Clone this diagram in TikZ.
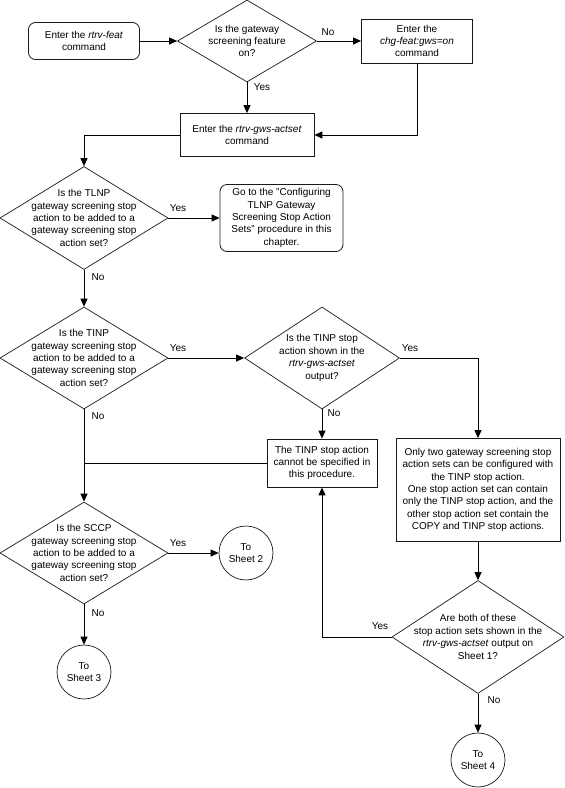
\documentclass[tikz,border=0pt]{standalone}
\usepackage{fontspec}
\setmainfont{Liberation Sans}
\usetikzlibrary{arrows.meta,shapes.geometric}
\definecolor{LineClr}{rgb}{0,0,0}
\definecolor{ShapeClr}{rgb}{0.1,0.1,0.1}

\begin{document}
\begin{tikzpicture}[x=1pt,y=-1pt,
  font=\fontsize{10}{12.4}\selectfont,
  every node/.style={align=center,inner sep=0pt},
  proc/.style={draw=ShapeClr,line width=.8pt,rectangle},
  term/.style={proc,rounded corners=7pt},
  decision/.style={draw=ShapeClr,line width=.7pt,diamond},
  sheet/.style={draw=ShapeClr,line width=.7pt,circle,minimum size=54pt},
  flow/.style={draw=LineClr,line width=1pt,-{Triangle[length=8pt,width=7pt]}},
  plain/.style={draw=LineClr,line width=1pt}]
\useasboundingbox (0,0) rectangle (565,788);

\node[term,minimum width=111pt,minimum height=37pt] (feat) at (84,41) {Enter the \textit{rtrv-feat}\\command};
\node[decision,minimum width=139pt,minimum height=82pt] (gws) at (247,41) {};
\node (gws-q) at (gws) {Is the gateway\\screening feature\\on?};
\node[proc,minimum width=111pt,minimum height=44pt] (chg) at (417,41) {Enter the\\\textit{chg-feat:gws=on}\\command};
\node[proc,minimum width=134pt,minimum height=43pt] (actset) at (247,135) {Enter the \textit{rtrv-gws-actset}\\command};

\node[decision,minimum width=168pt,minimum height=103pt] (tlnp) at (84,218) {};
\node (tlnp-q) at (tlnp) {Is the TLNP\\gateway screening stop\\action to be added to a\\gateway screening stop\\action set?};
\node[term,minimum width=123pt,minimum height=67pt] (goto) at (281.5,218) {Go to the "Configuring\\TLNP Gateway\\Screening Stop Action\\Sets" procedure in this\\chapter.};

\node[decision,minimum width=168pt,minimum height=102pt] (tinp) at (84,358) {};
\node (tinp-q) at (tinp) {Is the TINP\\gateway screening stop\\action to be added to a\\gateway screening stop\\action set?};
\node[decision,minimum width=155pt,minimum height=102pt] (shown) at (322,358) {};
\node (shown-q) at (shown) {Is the TINP stop\\action shown in the\\\textit{rtrv-gws-actset}\\output?};
\node[proc,minimum width=110pt,minimum height=48pt] (cannot) at (322,463) {The TINP stop action\\cannot be specified in\\this procedure.};
\node[proc,minimum width=164pt,minimum height=103pt] (only) at (478,490) {Only two gateway screening stop\\action sets can be configured with\\the TINP stop action.\\One stop action set can contain\\only the TINP stop action, and the\\other stop action set contain the\\COPY and TINP stop actions.};

\node[decision,minimum width=168pt,minimum height=102pt] (sccp) at (84,553) {};
\node (sccp-q) at (sccp) {Is the SCCP\\gateway screening stop\\action to be added to a\\gateway screening stop\\action set?};
\node[sheet] (sheet2) at (246,553) {To\\Sheet 2};
\node[sheet] (sheet3) at (84,672) {To\\Sheet 3};
\node[decision,minimum width=172pt,minimum height=113pt] (both) at (478,637) {};
\node (both-q) at (both) {Are both of these\\stop action sets shown in the\\\textit{rtrv-gws-actset} output on\\Sheet 1?};
\node[sheet] (sheet4) at (478,760) {To\\Sheet 4};

\draw[flow] (feat) -- (gws);
\draw[flow] (gws) -- (chg);
\draw[flow] (gws) -- (actset);
\draw[flow] (chg) |- (actset);
\draw[flow] (actset) -| (tlnp);
\draw[flow] (tlnp) -- (goto);
\draw[flow] (tlnp) -- (tinp);
\draw[flow] (tinp) -- (shown);
\draw[flow] (shown) -- (cannot);
\draw[flow] (shown) -| (only);
\draw[plain] (cannot.west) -- (cannot.west -| tinp.south);
\draw[flow] (tinp) -- (sccp);
\draw[flow] (sccp) -- (sheet2);
\draw[flow] (sccp) -- (sheet3);
\draw[flow] (only) -- (both);
\draw[flow] (both) -| (cannot);
\draw[flow] (both) -- (sheet4);

\node (gws-no) at (328,32) {No};
\node (gws-yes) at (262,87) {Yes};
\node (tlnp-yes) at (178,208) {Yes};
\node (tlnp-no) at (98,277) {No};
\node (tinp-yes) at (178,348) {Yes};
\node (tinp-no) at (98,416) {No};
\node (shown-yes) at (410,348) {Yes};
\node (shown-no) at (334,413) {No};
\node (sccp-yes) at (178,543) {Yes};
\node (sccp-no) at (98,613) {No};
\node (both-yes) at (380,626) {Yes};
\node (both-no) at (494,700) {No};

\end{tikzpicture}
\end{document}
